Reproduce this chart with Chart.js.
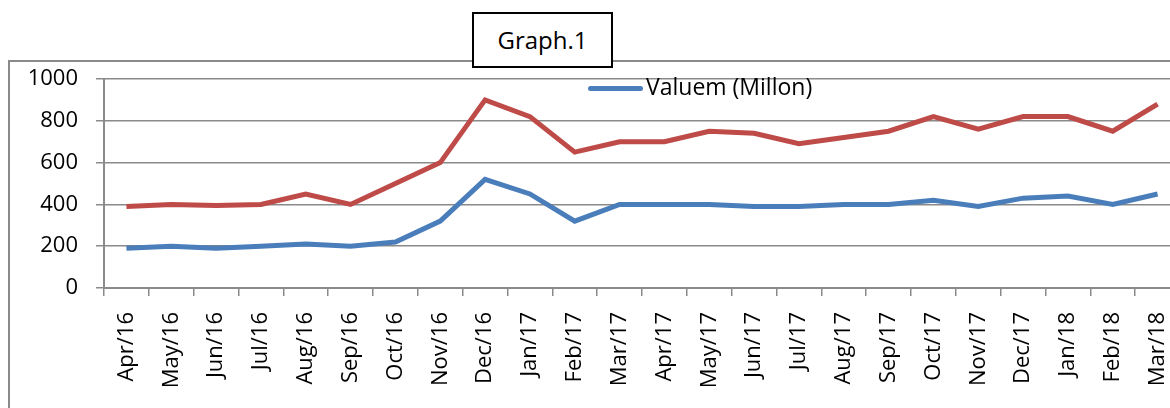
<!DOCTYPE html>
<html lang="en">
<head>
    <meta charset="UTF-8">
    <title>Graph.1</title>
    <script src="https://cdn.jsdelivr.net/npm/chart.js"></script>
    <style>
        body {
            margin: 0;
            width: 1170px;
            height: 408px;
            overflow: hidden;
            background-color: white;
            font-family: "Open Sans", sans-serif;
            position: relative;
        }
        .frame {
            position: absolute;
            left: 8px;
            top: 60px;
            width: 1200px;
            height: 400px;
            border: 2px solid #8a8a8a;
        }
        canvas {
            position: absolute;
            left: 0;
            top: 0;
        }
        .title-box {
            position: absolute;
            left: 472px;
            top: 12px;
            width: 137px;
            height: 52px;
            border: 2px solid black;
            background-color: white;
            font-size: 24px;
            line-height: 52px;
            text-align: center;
            color: black;
        }
        .legend {
            position: absolute;
            left: 588px;
            top: 70px;
            font-size: 23px;
            line-height: 32px;
            color: black;
            white-space: nowrap;
        }
        .legend .swatch {
            display: inline-block;
            width: 55px;
            height: 5px;
            border-radius: 3px;
            background-color: #4a7ebb;
            vertical-align: middle;
            margin-right: 3px;
        }
    </style>
</head>
<body>

    <div class="frame"></div>
    <canvas id="graph" width="1180" height="408"></canvas>
    <div class="title-box">Graph.1</div>
    <div class="legend"><span class="swatch"></span>Valuem (Millon)</div>

    <script>
        const months = ['Apr/16', 'May/16', 'Jun/16', 'Jul/16', 'Aug/16', 'Sep/16', 'Oct/16', 'Nov/16',
            'Dec/16', 'Jan/17', 'Feb/17', 'Mar/17', 'Apr/17', 'May/17', 'Jun/17', 'Jul/17',
            'Aug/17', 'Sep/17', 'Oct/17', 'Nov/17', 'Dec/17', 'Jan/18', 'Feb/18', 'Mar/18'];

        // blue series (the one named in the legend)
        const valuem = [190, 200, 190, 200, 210, 200, 220, 320, 520, 450, 320, 400,
            400, 400, 390, 390, 400, 400, 420, 390, 430, 440, 400, 450];

        // red series (no legend entry visible)
        const second = [390, 400, 395, 400, 450, 400, 500, 600, 900, 820, 650, 700,
            700, 750, 740, 690, 720, 750, 820, 760, 820, 820, 750, 880];

        const yTicks = [0, 200, 400, 600, 800, 1000];

        const gridGray = '#8a8a8a';
        const tickFont = { family: 'Open Sans', size: 22 };

        const ctx = document.getElementById('graph').getContext('2d');

        new Chart(ctx, {
            type: 'line',
            data: {
                labels: months,
                datasets: [
                    { label: 'Valuem (Millon)', data: valuem, borderColor: '#4a7ebb', borderWidth: 5, pointRadius: 0, tension: 0, fill: false },
                    { label: 'Series 2', data: second, borderColor: '#be4b48', borderWidth: 5, pointRadius: 0, tension: 0, fill: false }
                ]
            },
            options: {
                responsive: false,
                animation: false,
                layout: { padding: { top: 79, left: 0, right: 0, bottom: 0 } },
                plugins: {
                    legend: { display: false },
                    tooltip: { enabled: false }
                },
                scales: {
                    x: {
                        offset: true,
                        grid: { offset: true, drawOnChartArea: false, drawTicks: true, tickLength: 8, color: gridGray, lineWidth: 1.5 },
                        border: { color: gridGray, width: 2 },
                        ticks: { autoSkip: false, maxRotation: 90, minRotation: 90, padding: 16, color: 'black', font: tickFont },
                        afterFit: (scale) => {
                            scale.height = 120;
                            scale.paddingLeft = 0;
                            scale.paddingRight = 0;
                        }
                    },
                    y: {
                        min: 0,
                        max: 1000,
                        afterBuildTicks: (scale) => { scale.ticks = yTicks.map(v => ({ value: v })); },
                        grid: { tickLength: 8, color: gridGray, lineWidth: 1.5 },
                        border: { color: gridGray, width: 2 },
                        ticks: { padding: 18, color: 'black', font: tickFont, callback: (v) => String(v) },
                        afterFit: (scale) => { scale.width = 104; }
                    }
                }
            }
        });
    </script>

</body>
</html>
